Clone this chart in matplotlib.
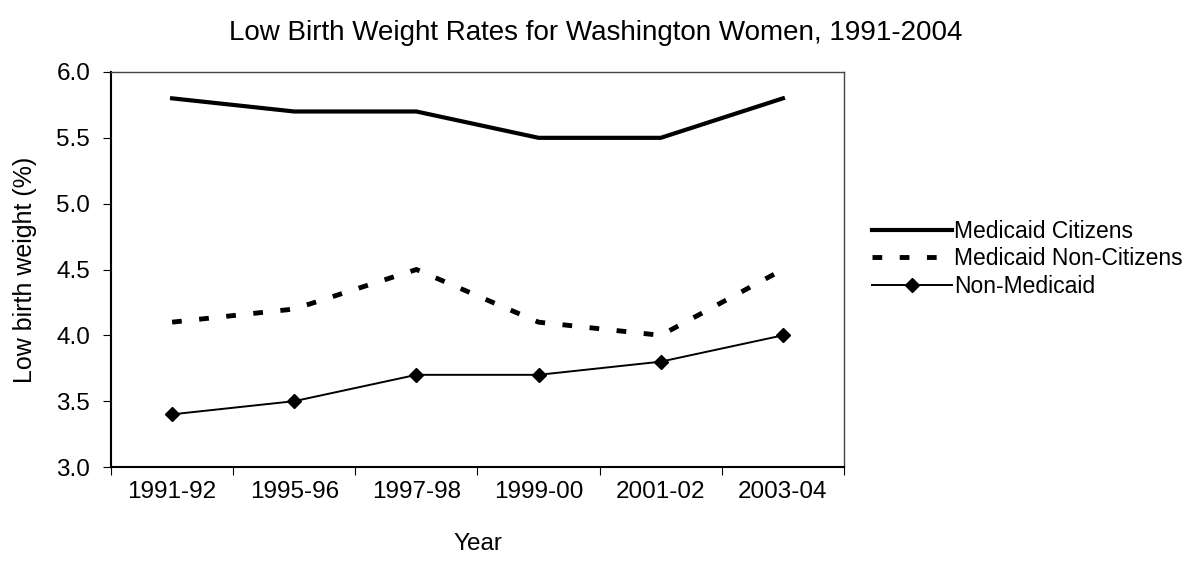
import matplotlib.pyplot as plt

plt.rcParams['font.family'] = ['Liberation Sans', 'DejaVu Sans']

years = ['1991-92', '1995-96', '1997-98', '1999-00', '2001-02', '2003-04']
medicaid_citizens = [5.8, 5.7, 5.7, 5.5, 5.5, 5.8]
medicaid_noncitizens = [4.1, 4.2, 4.5, 4.1, 4.0, 4.5]
non_medicaid = [3.4, 3.5, 3.7, 3.7, 3.8, 4.0]

x = list(range(len(years)))

fig = plt.figure(figsize=(11.92, 5.63), dpi=100)
ax = fig.add_axes([111 / 1192, 1 - 467 / 563, (844 - 111) / 1192, (467 - 72) / 563])

ax.plot(x, medicaid_citizens, color='black', lw=3, label='Medicaid Citizens')
ax.plot(x, medicaid_noncitizens, color='black', lw=3.5, dashes=(2.0, 3.6), label='Medicaid Non-Citizens')
ax.plot(x, non_medicaid, color='black', lw=1.4, marker='D', markersize=7, label='Non-Medicaid')

ax.set_xlim(-0.5, len(years) - 0.5)
ax.set_ylim(3.0, 6.0)
yt = [3.0, 3.5, 4.0, 4.5, 5.0, 5.5, 6.0]
ax.set_yticks(yt)
ax.set_yticklabels(['%.1f' % v for v in yt])
ax.set_xticks([i - 0.5 for i in range(len(years) + 1)])
ax.set_xticklabels([])
ax.set_xticks(x, minor=True)
ax.set_xticklabels(years, minor=True)
ax.tick_params(axis='x', which='minor', length=0, pad=10, labelsize=17.5)
ax.tick_params(axis='x', which='major', length=6, direction='out')
ax.tick_params(axis='y', length=6, direction='out', labelsize=17.5, pad=9)

for s in ['left', 'bottom']:
    ax.spines[s].set_linewidth(1.5)
for s in ['top', 'right']:
    ax.spines[s].set_linewidth(1.0)
    ax.spines[s].set_color('#444444')

ax.set_xlabel('Year', fontsize=17.5, labelpad=22)
ax.set_ylabel('Low birth weight (%)', fontsize=18, labelpad=14)
fig.suptitle('Low Birth Weight Rates for Washington Women, 1991-2004', fontsize=20, y=0.965)

ax.legend(loc='center left', bbox_to_anchor=(1.01, 0.527), frameon=False, fontsize=16.5,
          handlelength=3.5, handletextpad=0.1, labelspacing=0.2)

fig.savefig('out.png', dpi=100)
